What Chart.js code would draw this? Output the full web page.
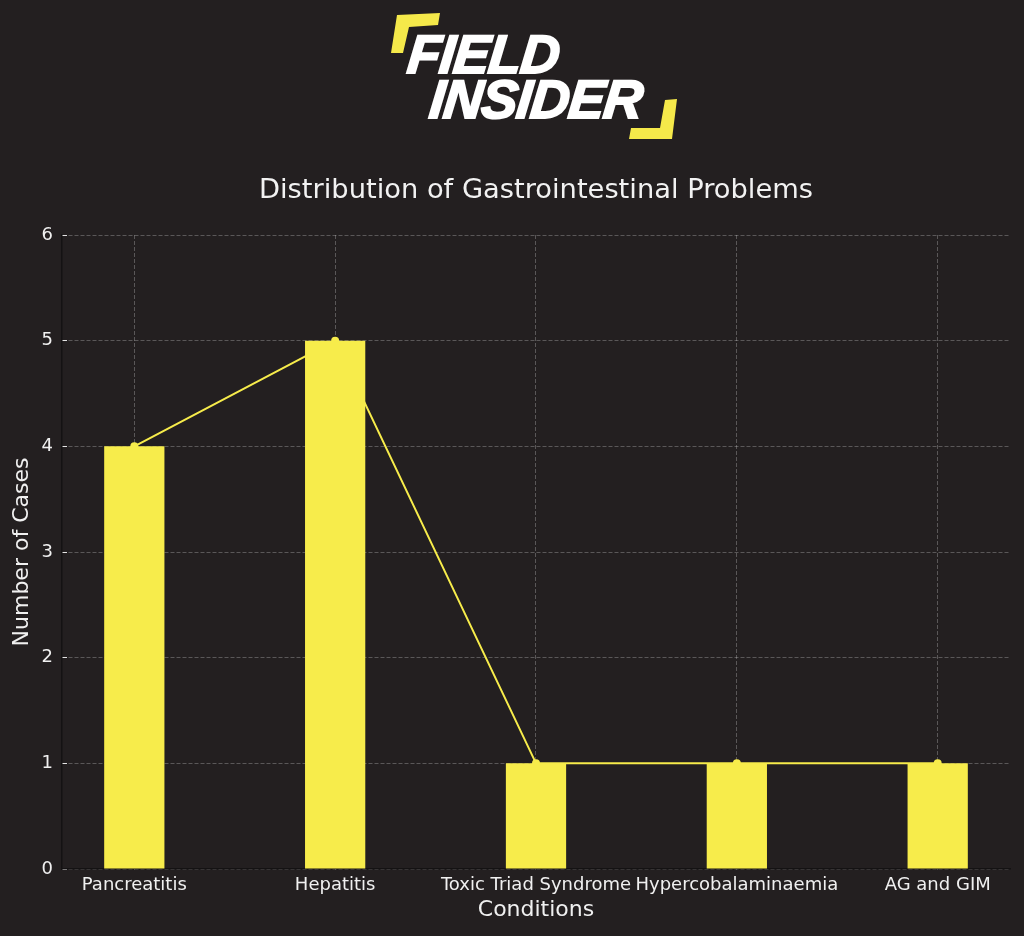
<!DOCTYPE html>
<html lang="en">
<head>
    <meta charset="UTF-8">
    <title>Distribution of Gastrointestinal Problems</title>
    <script src="https://cdn.jsdelivr.net/npm/chart.js"></script>
    <style>
        body {
            margin: 0;
            background-color: #231f20;
            width: 1024px;
            height: 936px;
            overflow: hidden;
            position: relative;
        }
        #chart {
            position: absolute;
            left: 0;
            top: 0;
        }
        .logo-text {
            position: absolute;
            font-family: "Liberation Sans", Arial, sans-serif;
            font-weight: bold;
            font-style: italic;
            font-size: 54px;
            line-height: 1;
            color: #ffffff;
            -webkit-text-stroke: 2px #ffffff;
            letter-spacing: -1px;
            transform: skewX(-6deg);
            white-space: nowrap;
        }
        #title {
            position: absolute;
            left: 0;
            width: 1072px;
            top: 175px;
            text-align: center;
            font-family: "DejaVu Sans", sans-serif;
            font-size: 27.3px;
            line-height: 1;
            color: #f2f2f2;
            white-space: nowrap;
        }
    </style>
</head>
<body>
    <canvas id="chart" width="1024" height="936"></canvas>

    <svg width="1024" height="150" style="position:absolute;left:0;top:0">
        <polygon points="397,15 440,13 438,25 409,27 403,53 391,53" fill="#f5e94a"/>
        <polygon points="665,100 677,99 672,139 629,139 631,128 660,128" fill="#f5e94a"/>
    </svg>
    <div class="logo-text" style="left:408px;top:27px">FIELD</div>
    <div class="logo-text" style="left:430px;top:72px">INSIDER</div>
    <div id="title">Distribution of Gastrointestinal Problems</div>

    <script>
        // chart data
        const conditions = ['Pancreatitis', 'Hepatitis', 'Toxic Triad Syndrome', 'Hypercobalaminaemia', 'AG and GIM'];
        const cases = [4, 5, 1, 1, 1];
        const yTicks = [0, 1, 2, 3, 4, 5, 6];

        const yellow = '#f7ec4b';
        const gridColor = 'rgba(255, 255, 255, 0.25)';
        const tickColor = 'rgba(255, 255, 255, 0.85)';
        const spineColor = '#141213';
        const textColor = '#f0f0f0';

        Chart.defaults.font.family = '"DejaVu Sans", sans-serif';
        Chart.defaults.color = textColor;

        const points = conditions.map((c, i) => ({ x: i, y: cases[i] }));

        new Chart(document.getElementById('chart'), {
            type: 'bar',
            data: {
                datasets: [
                    {
                        type: 'bar',
                        data: points,
                        backgroundColor: yellow,
                        borderWidth: 0,
                        barPercentage: 0.3,
                        categoryPercentage: 1,
                        order: 1
                    },
                    {
                        type: 'line',
                        data: points,
                        borderColor: yellow,
                        borderWidth: 2,
                        pointRadius: 4,
                        pointBackgroundColor: yellow,
                        pointBorderWidth: 0,
                        fill: false,
                        tension: 0,
                        order: 2
                    }
                ]
            },
            options: {
                responsive: false,
                devicePixelRatio: 1,
                animation: false,
                layout: {
                    padding: { top: 235, right: 14, left: 0, bottom: 0 }
                },
                plugins: {
                    legend: { display: false },
                    tooltip: { enabled: false }
                },
                scales: {
                    x: {
                        type: 'linear',
                        min: -0.36,
                        max: 4.36,
                        offset: false,
                        z: 1,
                        afterBuildTicks: s => { s.ticks = conditions.map((c, i) => ({ value: i })); },
                        afterFit: s => { s.height = 67; },
                        ticks: {
                            callback: v => conditions[v],
                            autoSkip: false,
                            maxRotation: 0,
                            minRotation: 0,
                            padding: 11,
                            font: { size: 18 },
                            color: textColor
                        },
                        grid: {
                            offset: false,
                            color: gridColor,
                            tickLength: -5,
                            tickColor: tickColor,
                            tickWidth: 1
                        },
                        border: { color: spineColor, width: 1.5, dash: [4, 2] },
                        title: {
                            display: true,
                            text: 'Conditions',
                            font: { size: 22 },
                            color: textColor,
                            padding: { top: 0, bottom: 13 }
                        }
                    },
                    y: {
                        min: 0,
                        max: 6,
                        afterBuildTicks: s => { s.ticks = yTicks.map(v => ({ value: v })); },
                        afterFit: s => { s.width = 62; },
                        ticks: {
                            padding: 14,
                            font: { size: 18 },
                            color: textColor
                        },
                        grid: {
                            color: gridColor,
                            tickLength: -5,
                            tickColor: tickColor,
                            tickWidth: 1
                        },
                        border: { color: spineColor, width: 1.5, dash: [4, 2] },
                        title: {
                            display: true,
                            text: 'Number of Cases',
                            font: { size: 22 },
                            color: textColor,
                            padding: { top: 9, bottom: 0 }
                        }
                    }
                }
            }
        });
    </script>
</body>
</html>
